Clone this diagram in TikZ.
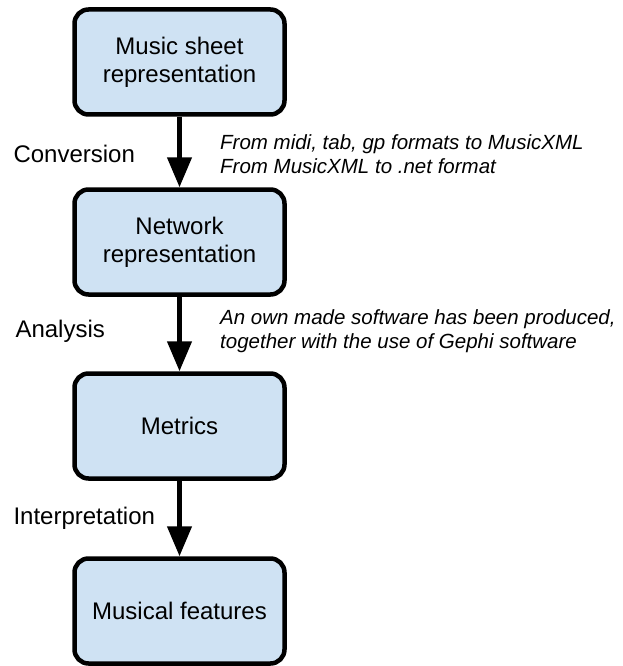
\documentclass[tikz,border=0pt]{standalone}
\usepackage{fontspec}
\setmainfont{Liberation Sans}
\usetikzlibrary{arrows.meta}

\definecolor{boxblue}{HTML}{CFE2F3}

\tikzset{
    stagebox/.style={draw=black, fill=boxblue, line width=4.5pt, rounded corners=14pt,
        minimum width=210pt, minimum height=105pt, align=center,
        font=\fontsize{24}{28}\selectfont},
    flow/.style={line width=4.5pt, -{Triangle[width=24pt,length=30pt]}},
    steplabel/.style={anchor=west, font=\fontsize{24}{28}\selectfont},
    notelabel/.style={anchor=west, align=left, inner sep=1pt, font=\fontsize{20.5}{24}\selectfont\itshape}
}

\begin{document}
\begin{tikzpicture}[x=1pt,y=-1pt]
        % Fix the canvas
        \useasboundingbox (0,0) rectangle (622,666);

        % The four stages
        \node[stagebox] (sheet) at (179.5,62) {Music sheet\\representation};
        \node[stagebox] (network) at (179.5,242) {Network\\representation};
        \node[stagebox] (metrics) at (179.5,426) {Metrics};
        \node[stagebox] (features) at (179.5,611) {Musical features};

        % Arrows between stages
        \draw[flow] (sheet) -- (network);
        \draw[flow] (network) -- (metrics);
        \draw[flow] (metrics) -- (features);

        % Step names on the left
        \node[steplabel] (conv) at (10,154) {Conversion};
        \node[steplabel] (anal) at (12,331) {Analysis};
        \node[steplabel] (interp) at (10,518) {Interpretation};

        % Notes on the right
        \node[notelabel] (convnote) at (219,154) {From midi, tab, gp formats to MusicXML\\From MusicXML to .net format};
        \node[notelabel] (analnote) at (219,331) {An own made software has been produced,\\together with the use of Gephi software};

    \end{tikzpicture}
\end{document}
